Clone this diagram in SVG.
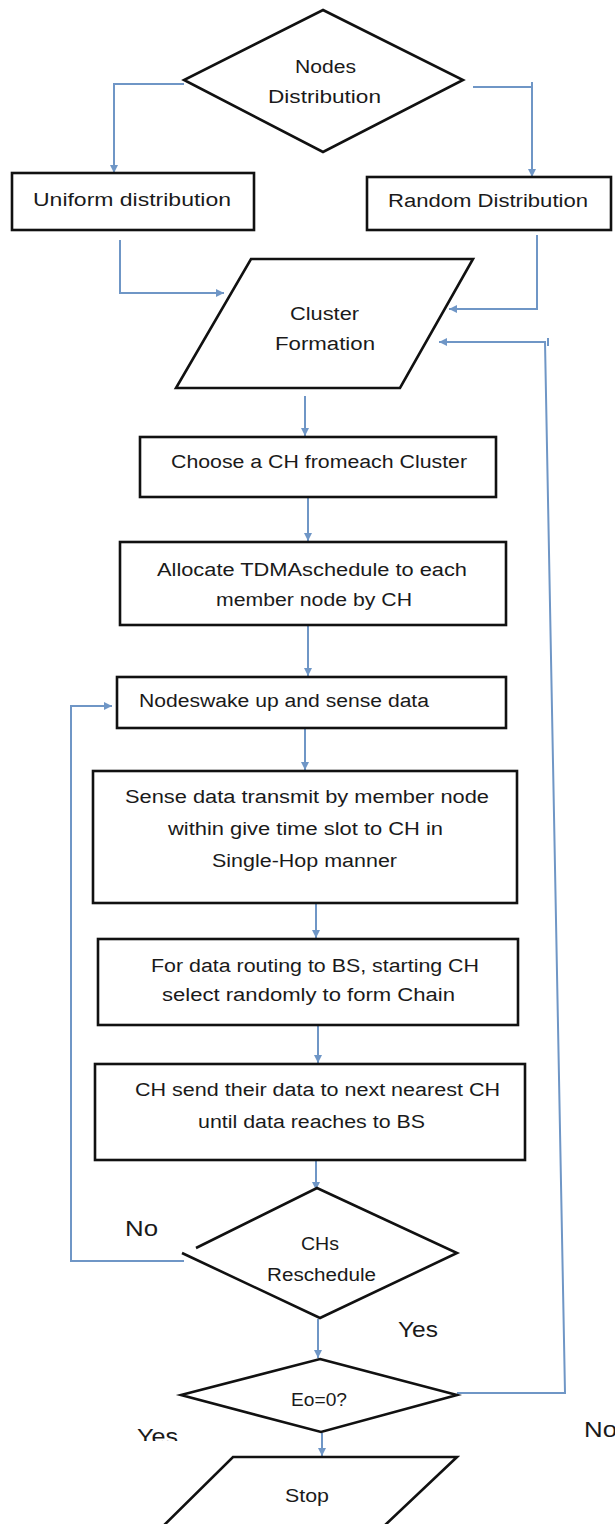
<svg xmlns="http://www.w3.org/2000/svg" width="615" height="1524" viewBox="0 0 615 1524">
<style>
.shape{fill:#fff;stroke:#111;stroke-width:2.6;stroke-linejoin:miter}
.open{fill:none;stroke:#111;stroke-width:2.6}
.t{font-family:"Liberation Sans",Arial,sans-serif;font-size:18px;fill:#1a1a1a;text-anchor:middle}
.ts{font-family:"Liberation Sans",Arial,sans-serif;font-size:18px;fill:#1a1a1a}
.lbl{font-family:"Liberation Sans",Arial,sans-serif;font-size:22px;fill:#1a1a1a}
.c{fill:none;stroke:#6f96c6;stroke-width:2}
</style>
<defs>
<marker id="arr" viewBox="0 0 8 8" refX="8" refY="4" markerWidth="8" markerHeight="8" markerUnits="userSpaceOnUse" orient="auto">
<path d="M0,0 L8,4 L0,8 z" fill="#6f96c6"/>
</marker>
<clipPath id="yesclip"><rect x="100" y="1400" width="120" height="41"/></clipPath>
</defs>
<rect width="615" height="1524" fill="#fff"/>

<g id="connectors">
<path class="c" d="M184,84 H114 V173" marker-end="url(#arr)"/>
<path class="c" d="M473,87 H532 M532,82 V177" marker-end="url(#arr)"/>
<path class="c" d="M120,240 V293 H224" marker-end="url(#arr)"/>
<path class="c" d="M537,235 V309 H449" marker-end="url(#arr)"/>
<path class="c" d="M305,396 V436" marker-end="url(#arr)"/>
<path class="c" d="M308,498 V541" marker-end="url(#arr)"/>
<path class="c" d="M308,626 V676" marker-end="url(#arr)"/>
<path class="c" d="M305,729 V770" marker-end="url(#arr)"/>
<path class="c" d="M316,904 V938" marker-end="url(#arr)"/>
<path class="c" d="M318,1026 V1063" marker-end="url(#arr)"/>
<path class="c" d="M316,1161 V1190" marker-end="url(#arr)"/>
<path class="c" d="M184,1261 H71 V706 H112" marker-end="url(#arr)"/>
<path class="c" d="M318,1319 V1358" marker-end="url(#arr)"/>
<path class="c" d="M457,1393 H565 L545,342 H439" marker-end="url(#arr)"/>
<path class="c" d="M548,338 V346"/>
<path class="c" d="M322,1433 V1456" marker-end="url(#arr)"/>
</g>

<g id="nodes-distribution">
<polygon class="shape" points="323,10 463,80 323,152 184,80"/>
<text class="t" x="325.5" y="73" textLength="61" lengthAdjust="spacingAndGlyphs">Nodes</text>
<text class="t" x="324.5" y="103" textLength="113" lengthAdjust="spacingAndGlyphs">Distribution</text>
</g>

<g id="uniform">
<rect class="shape" x="12" y="173" width="242" height="57"/>
<text class="t" x="132" y="206" textLength="198" lengthAdjust="spacingAndGlyphs">Uniform distribution</text>
</g>

<g id="random">
<rect class="shape" x="367" y="177" width="244" height="53"/>
<text class="t" x="488" y="207" textLength="200" lengthAdjust="spacingAndGlyphs">Random Distribution</text>
</g>

<g id="cluster-formation">
<polygon class="shape" points="251,259 473,259 400,388 176,388"/>
<text class="t" x="324.5" y="320" textLength="69" lengthAdjust="spacingAndGlyphs">Cluster</text>
<text class="t" x="325" y="350" textLength="100" lengthAdjust="spacingAndGlyphs">Formation</text>
</g>

<g id="choose-ch">
<rect class="shape" x="140" y="437" width="356" height="60"/>
<text class="t" x="319" y="468" textLength="296" lengthAdjust="spacingAndGlyphs">Choose a CH fromeach Cluster</text>
</g>

<g id="allocate-tdma">
<rect class="shape" x="120" y="542" width="386" height="83"/>
<text class="t" x="312" y="576" textLength="310" lengthAdjust="spacingAndGlyphs">Allocate TDMAschedule to each</text>
<text class="t" x="314" y="606" textLength="196" lengthAdjust="spacingAndGlyphs">member node by CH</text>
</g>

<g id="nodes-wake">
<rect class="shape" x="117" y="677" width="389" height="51"/>
<text class="ts" x="139" y="707" textLength="290" lengthAdjust="spacingAndGlyphs">Nodeswake up and sense data</text>
</g>

<g id="sense-transmit">
<rect class="shape" x="93" y="771" width="424" height="132"/>
<text class="t" x="307" y="803" textLength="364" lengthAdjust="spacingAndGlyphs">Sense data transmit by member node</text>
<text class="t" x="305.5" y="835" textLength="275" lengthAdjust="spacingAndGlyphs">within give time slot to CH in</text>
<text class="t" x="304.5" y="867" textLength="185" lengthAdjust="spacingAndGlyphs">Single-Hop manner</text>
</g>

<g id="routing">
<rect class="shape" x="98" y="939" width="420" height="86"/>
<text class="t" x="315" y="972" textLength="328" lengthAdjust="spacingAndGlyphs">For data routing to BS, starting CH</text>
<text class="t" x="308.5" y="1001" textLength="293" lengthAdjust="spacingAndGlyphs">select randomly to form Chain</text>
</g>

<g id="ch-send">
<rect class="shape" x="95" y="1064" width="430" height="96"/>
<text class="t" x="317.5" y="1096" textLength="365" lengthAdjust="spacingAndGlyphs">CH send their data to next nearest CH</text>
<text class="t" x="311.5" y="1128" textLength="227" lengthAdjust="spacingAndGlyphs">until data reaches to BS</text>
</g>

<g id="chs-reschedule">
<path class="shape" d="M196,1248 L317,1188 L457,1253 L320,1318 L182,1253"/>
<text class="t" x="320" y="1250" textLength="38" lengthAdjust="spacingAndGlyphs">CHs</text>
<text class="t" x="321.5" y="1281" textLength="109" lengthAdjust="spacingAndGlyphs">Reschedule</text>
</g>

<g id="eo-check">
<polygon class="shape" points="320,1359 457,1395 321,1432 181,1395"/>
<text class="t" x="319" y="1406" textLength="56" lengthAdjust="spacingAndGlyphs">Eo=0?</text>
</g>

<g id="stop">
<polygon class="shape" points="233,1457 457,1457 364,1545 144,1545"/>
<text class="t" x="307" y="1502" textLength="44" lengthAdjust="spacingAndGlyphs">Stop</text>
</g>

<g id="labels">
<text class="lbl" x="125" y="1236" textLength="33" lengthAdjust="spacingAndGlyphs">No</text>
<text class="lbl" x="398" y="1337" textLength="40" lengthAdjust="spacingAndGlyphs">Yes</text>
<text class="lbl" x="137" y="1444" textLength="41" lengthAdjust="spacingAndGlyphs" clip-path="url(#yesclip)">Yes</text>
<text class="lbl" x="584" y="1437" textLength="33" lengthAdjust="spacingAndGlyphs">No</text>
</g>
</svg>
